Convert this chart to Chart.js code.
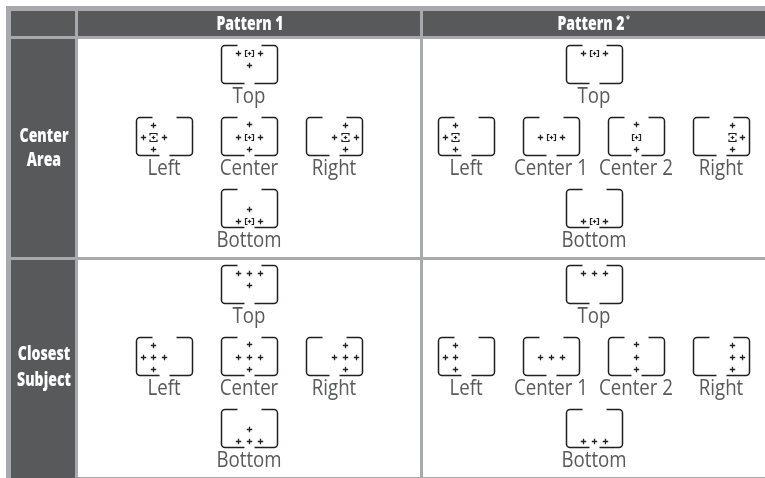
<!DOCTYPE html>
<html>
<head>
<meta charset="utf-8">
<style>
  html, body { margin: 0; padding: 0; background: #fff; }
  canvas { display: block; }
</style>
<script src="https://cdn.jsdelivr.net/npm/chart.js@4"></script>
</head>
<body>
<canvas id="chart-af" width="765" height="478"></canvas>
<script>
// table text
const patternNames = ['Pattern 1', 'Pattern 2'];
const modeNames = [['Center', 'Area'], ['Closest', 'Subject']];
const labels1 = ['Top', 'Left', 'Center', 'Right', 'Bottom'];
const labels2 = ['Top', 'Left', 'Center 1', 'Center 2', 'Right', 'Bottom'];

// AF points inside a viewfinder frame (frame units), one entry per label
const focus1 = [[28.5, 8.5], [17.5, 20.5], [28.5, 20.5], [39.5, 20.5], [28.5, 32.5]];
const others1 = [
  [[17.5, 8.5], [39.5, 8.5], [28.5, 20.5]],
  [[17.5, 8.5], [7.5, 20.5], [28.5, 20.5], [17.5, 32.5]],
  [[28.5, 7.5], [17.5, 20.5], [39.5, 20.5], [28.5, 32.5]],
  [[39.5, 8.5], [28.5, 20.5], [50.5, 20.5], [39.5, 32.5]],
  [[28.5, 20.5], [17.5, 32.5], [39.5, 32.5]],
];
const focus2 = [[28.5, 8.5], [17.5, 20.5], [28.5, 20.5], [28.5, 20.5], [39.5, 20.5], [28.5, 32.5]];
const others2 = [
  [[17.5, 8.5], [39.5, 8.5]],
  [[17.5, 8.5], [7.5, 20.5], [17.5, 32.5]],
  [[17.5, 20.5], [39.5, 20.5]],
  [[28.5, 7.5], [28.5, 32.5]],
  [[39.5, 8.5], [49.5, 20.5], [39.5, 32.5]],
  [[17.5, 32.5], [39.5, 32.5]],
];
const turned1 = [false, true, false, true, false];
const turned2 = [false, true, false, false, true, false];

// layout, in reference pixels
const W = 765, H = 478;
const slots1 = [[221, 45], [136, 117], [221, 117], [306, 117], [221, 189]];
const slots2 = [[566, 45], [438, 117], [523, 117], [608, 117], [693, 117], [566, 189]];
const rowShift = 220;
const frameW = 57, frameH = 39;
const GREY = '#a7a9ac', DARK = '#58595b', INK = '#231f20';

const stamp = (w, h, draw) => {
  const c = document.createElement('canvas');
  c.width = w;
  c.height = h;
  const g = c.getContext('2d');
  g.strokeStyle = INK;
  g.lineCap = 'butt';
  draw(g);
  return c;
};

const frameStamp = stamp(60, 42, (g) => {
  const x0 = 2.5, y0 = 2.5, x1 = x0 + 56, y1 = y0 + 38, r = 3.5;
  g.lineWidth = 1.5;
  g.beginPath();
  g.moveTo(x0 + 16, y0);
  g.arcTo(x0, y0, x0, y1, r);
  g.arcTo(x0, y1, x0 + 23, y1, r);
  g.lineTo(x0 + 23, y1);
  g.moveTo(x0 + 40, y0);
  g.arcTo(x1, y0, x1, y1, r);
  g.arcTo(x1, y1, x0 + 33, y1, r);
  g.lineTo(x0 + 33, y1);
  g.stroke();
});

const crossLines = (g, c, s) => {
  g.beginPath();
  g.moveTo(c - s, c);
  g.lineTo(c + s, c);
  g.moveTo(c, c - s);
  g.lineTo(c, c + s);
  g.stroke();
};

const focusFlat = stamp(11, 11, (g) => {
  g.lineWidth = 1.2;
  g.beginPath();
  g.moveTo(3.5, 2.5); g.lineTo(1.5, 2.5); g.lineTo(1.5, 8.5); g.lineTo(3.5, 8.5);
  g.moveTo(7.5, 2.5); g.lineTo(9.5, 2.5); g.lineTo(9.5, 8.5); g.lineTo(7.5, 8.5);
  g.stroke();
  crossLines(g, 5.5, 1.8);
});

const focusTall = stamp(11, 11, (g) => {
  g.lineWidth = 1.2;
  g.beginPath();
  g.moveTo(2, 3.5); g.lineTo(2, 1.5); g.lineTo(9, 1.5); g.lineTo(9, 3.5);
  g.moveTo(2, 7.5); g.lineTo(2, 9.5); g.lineTo(9, 9.5); g.lineTo(9, 7.5);
  g.stroke();
  crossLines(g, 5.5, 1.8);
});

const crossStamp = stamp(9, 9, (g) => {
  g.lineWidth = 1.3;
  crossLines(g, 4.5, 2.7);
});

const place = (slots, shift, pts) => slots.flatMap(([sx, sy], i) =>
  pts(i).map(([px, py]) => ({ x: sx + px, y: sy + shift + py })));

const frameData = [0, rowShift].flatMap((shift) =>
  [...slots1, ...slots2].map(([sx, sy]) => ({
    x: sx + 28,
    y: sy + shift + 19,
  })));

const crossData = [
  ...place(slots1, 0, (i) => others1[i]),
  ...place(slots2, 0, (i) => others2[i]),
  ...place(slots1, rowShift, (i) => [...others1[i], focus1[i]]),
  ...place(slots2, rowShift, (i) => [...others2[i], focus2[i]]),
];
const flatData = [
  ...place(slots1, 0, (i) => (turned1[i] ? [] : [focus1[i]])),
  ...place(slots2, 0, (i) => (turned2[i] ? [] : [focus2[i]])),
];
const tallData = [
  ...place(slots1, 0, (i) => (turned1[i] ? [focus1[i]] : [])),
  ...place(slots2, 0, (i) => (turned2[i] ? [focus2[i]] : [])),
];

const markSet = (label, data, pointStyle) => ({
  label, data, pointStyle, showLine: false, pointRadius: 5, pointHoverRadius: 5,
});

// grey sheet, dark headers and white cells sit behind the marks
const tablePlugin = {
  id: 'afTable',
  beforeDatasetsDraw(chart) {
    const { ctx, scales: { x, y } } = chart;
    const box = (x0, y0, x1, y1, color) => {
      const px = x.getPixelForValue(x0), py = y.getPixelForValue(y0);
      ctx.fillStyle = color;
      ctx.fillRect(px, py, x.getPixelForValue(x1) - px, y.getPixelForValue(y1) - py);
    };
    box(6, 6, W, H, GREY);
    box(11, 11, 75, 36, DARK);
    box(78, 11, 420, 36, DARK);
    box(423, 11, W, 36, DARK);
    box(11, 39, 75, 257, DARK);
    box(11, 260, 75, H, DARK);
    [[39, 257], [260, 477]].forEach(([t, b]) => {
      box(78, t, 420, b, '#fff');
      box(423, t, W, b, '#fff');
    });
  },
  afterDatasetsDraw(chart) {
    const { ctx, scales: { x, y } } = chart;
    const text = (str, vx, vy, font, color, squeeze) => {
      ctx.save();
      ctx.translate(x.getPixelForValue(vx), y.getPixelForValue(vy));
      ctx.scale(squeeze, 1);
      ctx.font = font;
      ctx.fillStyle = color;
      ctx.textAlign = 'center';
      ctx.textBaseline = 'alphabetic';
      ctx.fillText(str, 0, 0);
      ctx.restore();
    };
    const headFont = '800 19px "Open Sans"';
    text(patternNames[0], 250, 30, headFont, '#fff', 0.74);
    text(patternNames[1], 591, 30, headFont, '#fff', 0.74);
    text('*', 628, 22, 'bold 9px "Open Sans"', '#fff', 0.8);
    modeNames.forEach((lines, r) => {
      const y0 = r === 0 ? 142 : 360;
      const y1 = r === 0 ? 166 : 386;
      text(lines[0], 44, y0, headFont, '#fff', 0.74);
      text(lines[1], 44, y1, headFont, '#fff', 0.74);
    });
    const labelFont = '21px "Open Sans"';
    [0, rowShift].forEach((shift) => {
      slots1.forEach(([sx, sy], i) => {
        text(labels1[i], sx + 28, sy + shift + 58, labelFont, DARK, 0.89);
      });
      slots2.forEach(([sx, sy], i) => {
        text(labels2[i], sx + 28, sy + shift + 58, labelFont, DARK, 0.89);
      });
    });
  },
};

new Chart(document.getElementById('chart-af').getContext('2d'), {
  type: 'scatter',
  data: {
    datasets: [
      markSet('Frames', frameData, frameStamp),
      markSet('AF points', crossData, crossStamp),
      markSet('Focus point', flatData, focusFlat),
      markSet('Focus point, turned', tallData, focusTall),
    ],
  },
  options: {
    responsive: false,
    animation: false,
    layout: { padding: 0, autoPadding: false },
    plugins: { legend: { display: false }, tooltip: { enabled: false } },
    scales: {
      x: { display: false, type: 'linear', min: 0, max: W },
      y: { display: false, type: 'linear', min: 0, max: H, reverse: true },
    },
  },
  plugins: [tablePlugin],
});
</script>
</body>
</html>
